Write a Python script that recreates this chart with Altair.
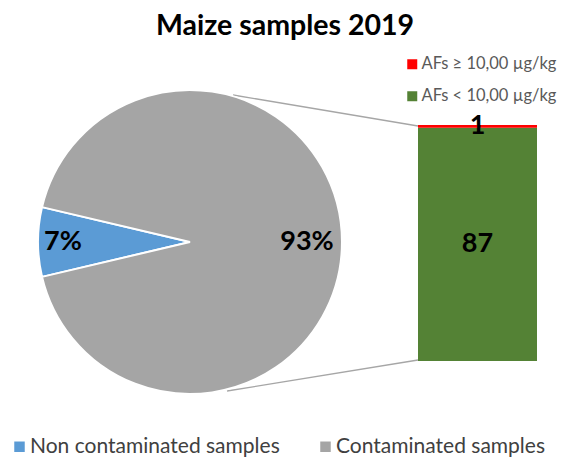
import math
import altair as alt
import pandas as pd

# ---- data ----
pie_categories = ["Non contaminated samples", "Contaminated samples"]
pie_values = [7, 88]
pie_labels = ["7%", "93%"]
pie_colors = ["#5b9bd5", "#a5a5a5"]

bar_categories = ["AFs < 10,00 µg/kg", "AFs ≥ 10,00 µg/kg"]
bar_values = [87, 1]
legend_bar_order = ["AFs ≥ 10,00 µg/kg", "AFs < 10,00 µg/kg"]
legend_bar_colors = ["#ff0000", "#548235"]

title_text = "Maize samples 2019"

FONT = "Lato"

pie_df = pd.DataFrame({"cat": pie_categories, "value": pie_values,
                       "label": pie_labels, "order": [0, 1]})
bar_df = pd.DataFrame({"cat": bar_categories, "value": bar_values,
                       "order": [0, 1]})

total = sum(pie_values)
start = 1.5 * math.pi - math.pi * pie_values[0] / total
theta_scale = alt.Scale(domain=[0, total], range=[start, start + 2 * math.pi])
bar_total = sum(bar_values)
y_scale = alt.Scale(domain=[0, bar_total], range=[353, 117])

CX, CY, R = 182, 234, 152
BX0, BX1 = 410, 529

# connector lines (behind pie)
line_top = alt.Chart(pd.DataFrame({"k": [0]})).mark_rule(
    color="#a6a6a6", strokeWidth=1.3
).encode(x=alt.value(225), y=alt.value(87), x2=alt.value(BX0), y2=alt.value(118))
line_bot = alt.Chart(pd.DataFrame({"k": [0]})).mark_rule(
    color="#a6a6a6", strokeWidth=1.3
).encode(x=alt.value(219), y=alt.value(383), x2=alt.value(BX0), y2=alt.value(352))

pie = alt.Chart(pie_df).mark_arc(outerRadius=R, stroke="white", strokeWidth=2).encode(
    theta=alt.Theta("value:Q", stack=True, scale=theta_scale),
    order=alt.Order("order:Q"),
    color=alt.Color("cat:N", scale=alt.Scale(domain=pie_categories, range=pie_colors),
                    legend=alt.Legend(title=None, orient="none", direction="horizontal",
                                      legendX=1, legendY=428, symbolType="square",
                                      symbolSize=110, symbolStrokeWidth=0,
                                      labelFontSize=21, labelFont=FONT,
                                      labelColor="#404040", columnPadding=35,
                                      labelOffset=0, labelLimit=0)),
    x=alt.value(CX), y=alt.value(CY),
)

pie_text_base = alt.Chart(pie_df).transform_stack(
    stack="value", groupby=[], as_=["v0", "v1"], sort=[alt.SortField("order")]
).transform_calculate(mid="(datum.v0 + datum.v1) / 2")

pie_text_small = pie_text_base.transform_filter(
    alt.datum.cat == pie_categories[0]
).mark_text(radius=127, fontSize=27, fontWeight="bold", font=FONT, color="black").encode(
    theta=alt.Theta("mid:Q", scale=theta_scale), text="label:N",
    x=alt.value(CX), y=alt.value(CY))
pie_text_big = pie_text_base.transform_filter(
    alt.datum.cat == pie_categories[1]
).mark_text(radius=117, fontSize=27, fontWeight="bold", font=FONT, color="black").encode(
    theta=alt.Theta("mid:Q", scale=theta_scale), text="label:N",
    x=alt.value(CX), y=alt.value(CY))

bar_base = alt.Chart(bar_df).transform_stack(
    stack="value", groupby=[], as_=["v0", "v1"], sort=[alt.SortField("order")]
).transform_calculate(mid="(datum.v0 + datum.v1) / 2")

bar = bar_base.mark_rect().encode(
    x=alt.value(BX0), x2=alt.value(BX1),
    y=alt.Y("v0:Q", scale=y_scale, axis=None),
    y2="v1:Q",
    color=alt.Color("cat:N", scale=alt.Scale(domain=legend_bar_order, range=legend_bar_colors),
                    legend=alt.Legend(title=None, orient="none", direction="vertical",
                                      legendX=396, legendY=48, symbolType="square",
                                      symbolSize=100, symbolStrokeWidth=0,
                                      labelFontSize=16.5, labelFont=FONT,
                                      labelColor="#595959", rowPadding=15,
                                      labelOffset=1, labelLimit=0)),
)

bar_text = bar_base.mark_text(
    fontSize=27, fontWeight="bold", font=FONT, color="black", baseline="middle"
).encode(
    x=alt.value((BX0 + BX1) / 2),
    y=alt.Y("mid:Q", scale=y_scale, axis=None),
    text="value:Q",
)

title = alt.Chart(pd.DataFrame({"t": [title_text]})).mark_text(
    fontSize=28.5, fontWeight="bold", font=FONT, color="black", baseline="middle"
).encode(x=alt.value(277), y=alt.value(18), text="t:N")

chart = alt.layer(
    line_top, line_bot, pie, pie_text_small, pie_text_big, bar, bar_text, title
).resolve_scale(color="independent").properties(
    width=553, height=449, autosize=alt.AutoSizeParams(type="none"), padding=0
).configure_view(stroke=None)

chart.save("out.html", embed_options={"renderer": "svg", "actions": False})
